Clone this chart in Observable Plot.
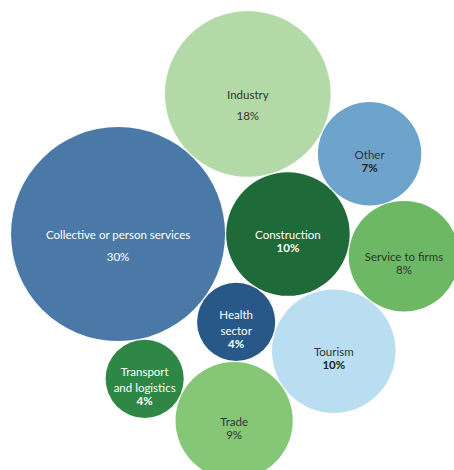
<!DOCTYPE html>
<html>
<head>
<meta charset="utf-8">
<script src="https://cdn.jsdelivr.net/npm/d3@7"></script>
<script src="https://cdn.jsdelivr.net/npm/@observablehq/plot@0.6"></script>
<style>
  html, body { margin: 0; padding: 0; background: #fff; }
  #chart svg { display: block; overflow: hidden; }
</style>
</head>
<body>
<div id="chart"></div>
<script>
// ---- data (alphabetical order, as packed) ----
const categories = [
  "Collective or person services", "Construction", "Health sector", "Industry",
  "Other", "Service to firms", "Tourism", "Trade", "Transport and logistics"
];
const shares = [30, 10, 4, 18, 7, 8, 10, 9, 4];
const labelText = [
  "Collective or person services", "Construction", "Health\nsector", "Industry",
  "Other", "Service to firms", "Tourism", "Trade", "Transport\nand logistics"
];
const pctLabels = ["30%", "10%", "4%", "18%", "7%", "8%", "10%", "9%", "4%"];

// ---- styles ----
const palette = ["#4a79a8", "#1f6a39", "#285888", "#b3daa6", "#6ea3cc", "#6cb864", "#b9def2", "#86c677", "#2e8744"];
const darkText = new Set(["Industry", "Other", "Service to firms", "Tourism", "Trade"]);
const boldPct = new Set(["Construction", "Health sector", "Other", "Tourism", "Transport and logistics"]);

const rOpts = {type: "sqrt", domain: [0, 30], range: [0, 107]};
const rScale = (typeof Plot.scale === "function") ? Plot.scale({r: rOpts}) : null;
const rOf = v => rScale ? rScale.apply(v) : d3.scaleSqrt().domain(rOpts.domain).range(rOpts.range)(v);

// ---- front-chain circle packing (continues around the chain) ----
function place(b, a, c) {
  const dx = b.x - a.x, dy = b.y - a.y, d2 = dx * dx + dy * dy;
  if (d2) {
    let a2 = a.r + c.r, b2 = b.r + c.r, x, y;
    a2 *= a2; b2 *= b2;
    if (a2 > b2) {
      x = (d2 + b2 - a2) / (2 * d2);
      y = Math.sqrt(Math.max(0, b2 / d2 - x * x));
      c.x = b.x - x * dx - y * dy;
      c.y = b.y - x * dy + y * dx;
    } else {
      x = (d2 + a2 - b2) / (2 * d2);
      y = Math.sqrt(Math.max(0, a2 / d2 - x * x));
      c.x = a.x + x * dx - y * dy;
      c.y = a.y + x * dy + y * dx;
    }
  } else { c.x = a.x + c.r; c.y = a.y; }
}
function intersects(a, b) {
  const dr = a.r + b.r - 1e-6, dx = b.x - a.x, dy = b.y - a.y;
  return dr > 0 && dr * dr > dx * dx + dy * dy;
}
function Node(circle) { this._ = circle; this.next = null; this.previous = null; }
function packChain(circles) {
  const n = circles.length;
  let a = circles[0], b = circles[1], c, i, j, k, sj, sk;
  a.x = 0; a.y = 0;
  a.x = -b.r; b.x = a.r; b.y = 0;
  if (n < 3) return circles;
  place(b, a, c = circles[2]);
  a = new Node(a); b = new Node(b); c = new Node(c);
  a.next = c.previous = b;
  b.next = a.previous = c;
  c.next = b.previous = a;
  pack: for (i = 3; i < n; ++i) {
    place(a._, b._, c = circles[i]); c = new Node(c);
    j = b.next; k = a.previous; sj = b._.r; sk = a._.r;
    do {
      if (sj <= sk) {
        if (intersects(j._, c._)) { b = j; a.next = b; b.previous = a; --i; continue pack; }
        sj += j._.r; j = j.next;
      } else {
        if (intersects(k._, c._)) { a = k; a.next = b; b.previous = a; --i; continue pack; }
        sk += k._.r; k = k.previous;
      }
    } while (j !== k.next);
    c.previous = a; c.next = b; a.next = b.previous = c;
    a = c; // next circle goes against the one just placed
  }
  return circles;
}

const data = categories.map((name, i) => ({
  name, value: shares[i], label: labelText[i], pct: pctLabels[i],
  lines: labelText[i].split("\n").length, r: rOf(shares[i]) + 0.55
}));
packChain(data);

const minX = d3.min(data, d => d.x - d.r);
const minY = d3.min(data, d => d.y - d.r);
const W = 454, H = 470, pad = 10;

const wide = d => d.lines > 1 || d.value >= 15;
const txt = (filter, fill, weight, dy, field) => Plot.text(data, {
  filter, x: "x", y: "y", text: field, fill, fontWeight: weight, dy,
  fontSize: 11.5, lineAnchor: "middle", lineHeight: 1.35
});

const chart = Plot.plot({
  width: W, height: H,
  marginTop: 0, marginRight: 0, marginBottom: 0, marginLeft: 0,
  style: {fontFamily: "Lato, 'Open Sans', sans-serif", background: "#fff"},
  x: {domain: [minX - pad, minX - pad + W], range: [0, W], axis: null},
  y: {domain: [minY - pad, minY - pad + H], range: [0, H], axis: null},
  r: rOpts,
  color: {domain: categories, range: palette},
  marks: [
    Plot.dot(data, {x: "x", y: "y", r: "value", fill: "name"}),
    // category names
    txt(d => !darkText.has(d.name), "white", "normal", 0, "label"),
    txt(d => darkText.has(d.name), "#333", "normal", 0, "label"),
    // percentages
    txt(d => !darkText.has(d.name) && wide(d) && boldPct.has(d.name), "white", "bold", 21, "pct"),
    txt(d => !darkText.has(d.name) && wide(d) && !boldPct.has(d.name), "white", "normal", 21.5, "pct"),
    txt(d => !darkText.has(d.name) && !wide(d), "white", "bold", 13, "pct"),
    txt(d => darkText.has(d.name) && wide(d), "#333", "normal", 21.5, "pct"),
    txt(d => darkText.has(d.name) && !wide(d) && boldPct.has(d.name), "#222", "bold", 13, "pct"),
    txt(d => darkText.has(d.name) && !wide(d) && !boldPct.has(d.name), "#333", "normal", 13, "pct")
  ]
});
document.getElementById("chart").appendChild(chart);
</script>
</body>
</html>
